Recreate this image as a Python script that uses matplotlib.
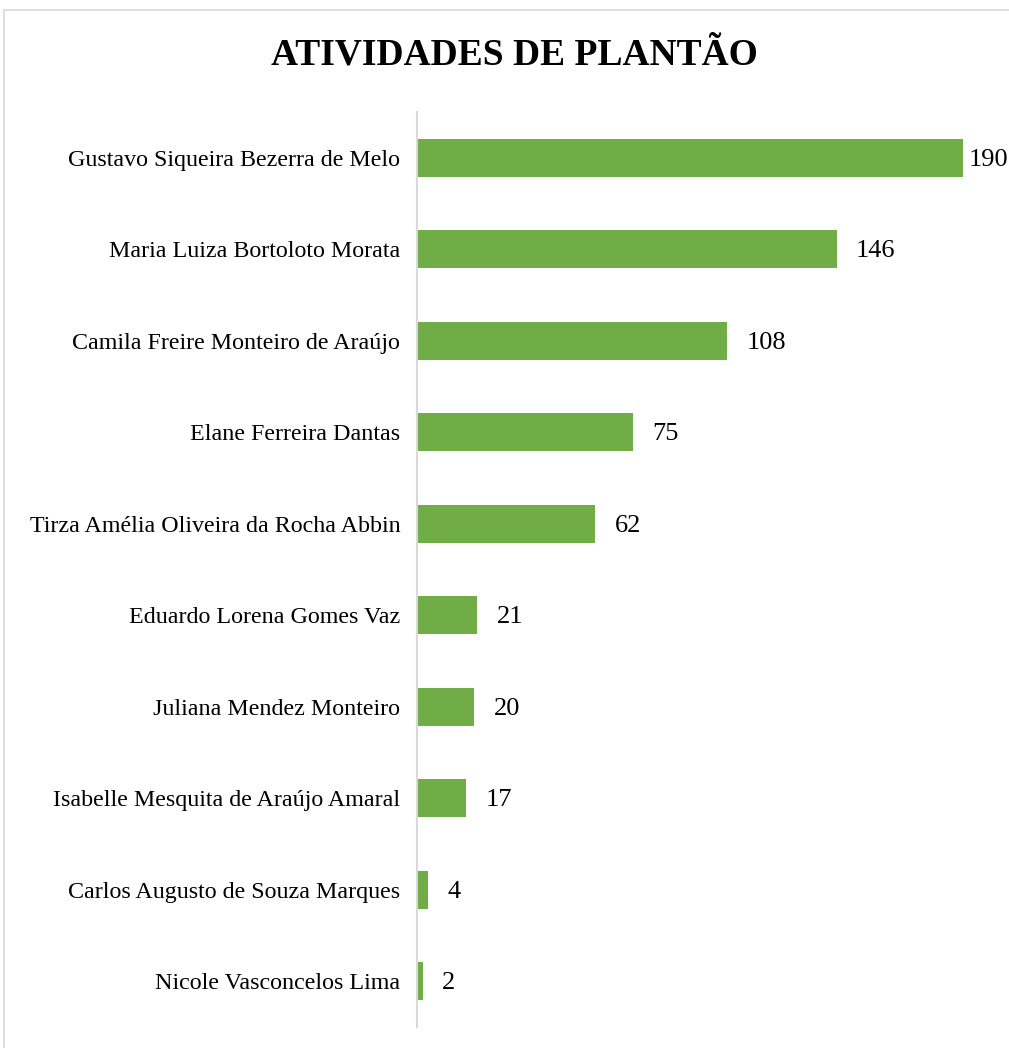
import matplotlib.pyplot as plt
from matplotlib.patches import Rectangle

names = [
    'Gustavo Siqueira Bezerra de Melo',
    'Maria Luiza Bortoloto Morata',
    'Camila Freire Monteiro de Araújo',
    'Elane Ferreira Dantas',
    'Tirza Amélia Oliveira da Rocha Abbin',
    'Eduardo Lorena Gomes Vaz',
    'Juliana Mendez Monteiro',
    'Isabelle Mesquita de Araújo Amaral',
    'Carlos Augusto de Souza Marques',
    'Nicole Vasconcelos Lima',
]
values = [190, 146, 108, 75, 62, 21, 20, 17, 4, 2]

green = '#70AD47'
grid_gray = '#D9D9D9'

plt.rcParams['font.family'] = ['Liberation Serif', 'DejaVu Serif']

W, H = 1009, 1048
fig = plt.figure(figsize=(W / 100, H / 100), dpi=100)

# chart frame (cropped on the right and bottom)
fig.patches.append(Rectangle((4 / W, -0.1), 1.2, 1 - 10 / H + 0.1,
                             transform=fig.transFigure, fill=False,
                             edgecolor=grid_gray, linewidth=1.2))

ax = fig.add_axes([417 / W, 1 - 1027 / H, (W - 417) / W, 915 / H])
y = list(range(len(names)))
ax.barh(y, values, height=0.42, color=green)
ax.set_ylim(len(names) - 0.5, -0.5)
ax.set_xlim(0, (W - 417) / 2.874)

ax.set_yticks(y)
ax.set_yticklabels(names, fontsize=17.3)
ax.tick_params(axis='y', length=0, pad=12)
ax.set_xticks([])
for s in ['top', 'right', 'bottom']:
    ax.spines[s].set_visible(False)
ax.spines['left'].set_color(grid_gray)
ax.spines['left'].set_linewidth(1.5)

vmax = max(values)
for yi, v in zip(y, values):
    off = 4 if v == vmax else 14
    ax.annotate(str(v), (v, yi), xytext=(off, -1.5), textcoords='offset points',
                ha='left', va='center', fontsize=19, annotation_clip=False)

fig.text(514 / W, 1 - 55 / H, 'ATIVIDADES DE PLANTÃO', ha='center', va='center',
         fontsize=27, fontweight='bold')

fig.savefig('out.png', dpi=100)
